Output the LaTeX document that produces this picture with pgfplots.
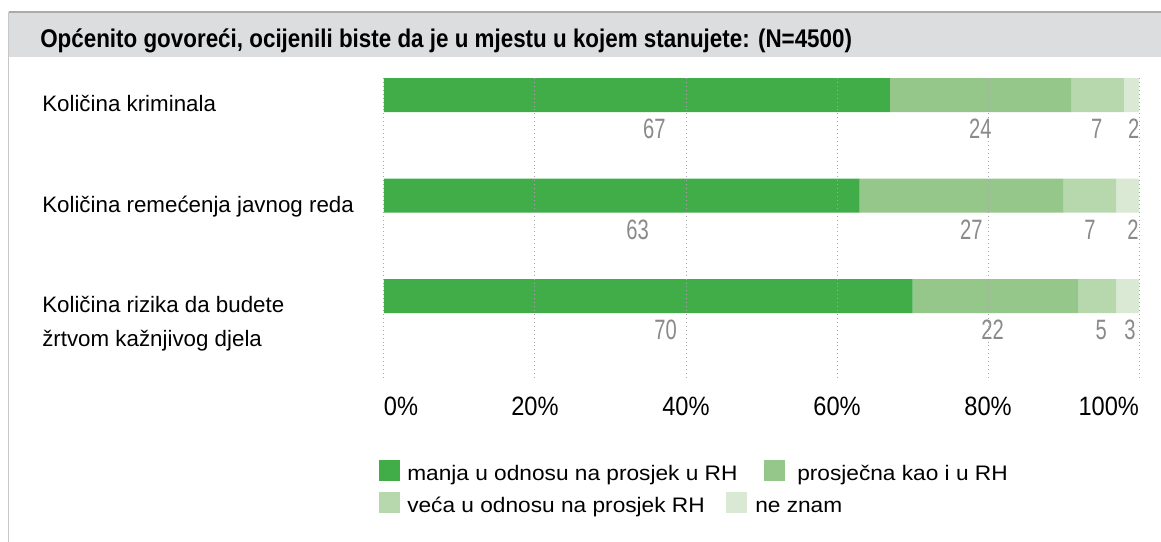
\documentclass[border=0pt]{standalone}
\usepackage{fontspec}
\setmainfont{Liberation Sans}
\newfontfamily\legfont{Liberation Sans}[FakeStretch=1.08]
\newfontfamily\titlefont{Liberation Sans}[FakeStretch=0.875]
\newfontfamily\tickfont{Liberation Sans}[FakeStretch=0.89]
\newfontfamily\valfont{Liberation Sans}[FakeStretch=0.72]
\usepackage{pgfplots}
\pgfplotsset{compat=1.18}
\usepackage{pgfplotstable}
\definecolor{cA}{HTML}{40AD49}
\definecolor{cB}{HTML}{95C78A}
\definecolor{cC}{HTML}{B7D8AD}
\definecolor{cD}{HTML}{D9E9D3}
\definecolor{hdr}{HTML}{DCDDDF}
\definecolor{valgray}{HTML}{8A8A8A}
\definecolor{gridgray}{HTML}{A8A8A8}

\pgfplotstableread{
y manja prosj veca ne
0 67 24 7 2
1 63 27 7 3
2 70 22 5 3
}\datatab

\pgfplotstableread{
x y l
35.8 0.338 67
79.0 0.338 24
94.4 0.338 7
99.3 0.338 2
33.6 1.338 63
77.8 1.338 27
93.5 1.338 7
99.2 1.338 2
37.3 2.338 70
80.6 2.338 22
95.0 2.338 5
98.8 2.338 3
}\labtab

\begin{document}
\begin{tikzpicture}
\begin{scope}[x=0.75pt,y=-0.75pt]
\useasboundingbox (0,0) rectangle (1161,542);
\fill[white] (0,0) rectangle (1161,542);
\fill[hdr] (8.5,12) rectangle (1161,57);
\draw[color=black!33, line width=1.1pt] (8.5,12) -- (1161,12);
\draw[color=black!22, line width=1.1pt] (8.5,12) -- (8.5,542);
\node[anchor=base west, inner sep=0pt, font=\titlefont\bfseries\fontsize{19.2}{22}\selectfont] at (40,48) {Općenito govoreći, ocijenili biste da je u mjestu u kojem stanujete: (N=4500)};
% legend
\fill[cA] (379,460) rectangle (400,481);
\node[anchor=base west, inner sep=0pt, font=\legfont\fontsize{15.75}{18}\selectfont] at (407,480) {manja u odnosu na prosjek u RH};
\fill[cB] (764,460) rectangle (785,481);
\node[anchor=base west, inner sep=0pt, font=\legfont\fontsize{15.75}{18}\selectfont] at (797,480) {prosječna kao i u RH};
\fill[cC] (379,492) rectangle (400,513);
\node[anchor=base west, inner sep=0pt, font=\legfont\fontsize{15.75}{18}\selectfont] at (407,512) {veća u odnosu na prosjek RH};
\fill[cD] (726,492) rectangle (747,513);
\node[anchor=base west, inner sep=0pt, font=\legfont\fontsize{15.75}{18}\selectfont] at (755,512) {ne znam};
\end{scope}

\begin{axis}[
  at={(288pt,-285pt)}, anchor=south west,
  scale only axis, width=566.25pt, height=226.5pt,
  xbar stacked, bar width=25.5pt,
  xmin=0, xmax=100, ymin=-0.17, ymax=2.835, y dir=reverse,
  ytick={0,1,2},
  yticklabels={{Količina kriminala},{Količina remećenja javnog reda},{Količina rizika da budete\\žrtvom kažnjivog djela}},
  yticklabel style={anchor=north west, inner sep=0pt, xshift=-256.5pt, align=left, font=\fontsize{16.75}{25.5}\selectfont},
  xtick={0,20,40,60,80,100},
  xticklabel={\pgfmathparse{int(round(\tick))}\ifnum\pgfmathresult=0 \rlap{0\%}\else\ifnum\pgfmathresult=100 \llap{100\%}\else\pgfmathresult\%\fi\fi},
  xticklabel style={anchor=north, inner sep=0pt, yshift=-12.75pt, font=\tickfont\fontsize{19.9}{22}\selectfont},
  axis line style={draw=none}, major tick length=0pt,
  xmajorgrids, grid style={color=gridgray, line width=0.75pt, dash pattern=on 0.75pt off 2.2pt},
  axis on top,
]
\addplot[fill=cA, draw=none] table[x=manja, y=y] {\datatab};
\addplot[fill=cB, draw=none] table[x=prosj, y=y] {\datatab};
\addplot[fill=cC, draw=none] table[x=veca, y=y] {\datatab};
\addplot[fill=cD, draw=none] table[x=ne, y=y] {\datatab};
\end{axis}

\begin{axis}[
  at={(288pt,-285pt)}, anchor=south west,
  scale only axis, width=566.25pt, height=226.5pt,
  xmin=0, xmax=100, ymin=-0.17, ymax=2.835, y dir=reverse,
  hide axis, clip=false,
]
\addplot[only marks, mark=none, nodes near coords, point meta=explicit symbolic,
  every node near coord/.append style={anchor=center, inner sep=0pt, text=valgray, font=\valfont\fontsize{21}{24}\selectfont}]
  table[x=x, y=y, meta=l] {\labtab};
\end{axis}
\end{tikzpicture}
\end{document}
